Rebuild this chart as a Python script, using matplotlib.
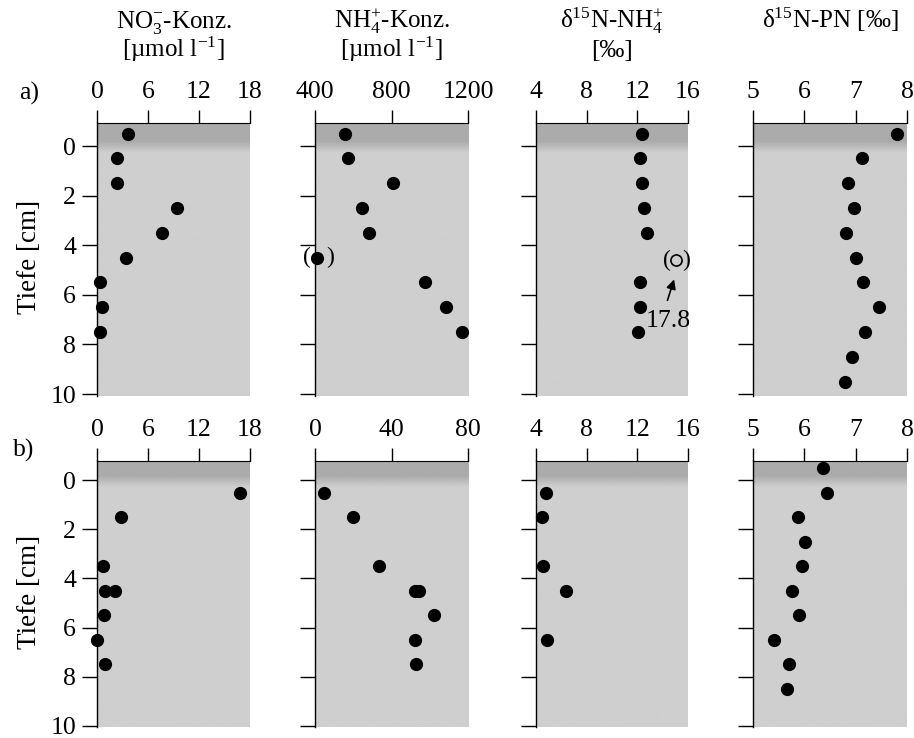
import numpy as np
import matplotlib.pyplot as plt

plt.rcParams['font.family'] = ['Liberation Serif', 'DejaVu Serif']
plt.rcParams['mathtext.fontset'] = 'custom'
plt.rcParams['mathtext.rm'] = 'Liberation Serif'
plt.rcParams['mathtext.it'] = 'Liberation Serif:italic'
plt.rcParams['font.size'] = 18.5

# --- data (Tiefe in cm) ---
no3_a_depth = [-0.5, 0.5, 1.5, 2.5, 3.5, 4.5, 5.5, 6.5, 7.5]
no3_a = [3.7, 2.3, 2.3, 9.45, 7.7, 3.4, 0.3, 0.55, 0.35]
nh4_a_depth = [-0.5, 0.5, 1.5, 2.5, 3.5, 4.5, 5.5, 6.5, 7.5]
nh4_a = [557, 574, 806, 647, 682, 409, 975, 1085, 1168]
nh4_a_bracketed = 5  # index of the value shown in brackets
d15nh4_a_depth = [-0.5, 0.5, 1.5, 2.5, 3.5, 5.5, 6.5, 7.5]
d15nh4_a = [12.39, 12.2, 12.34, 12.55, 12.79, 12.24, 12.2, 12.07]
d15nh4_a_out_depth = 4.6
d15nh4_a_out_shown = 15.05
d15nh4_a_out_label = "17.8"
d15pn_a_depth = [-0.5, 0.5, 1.5, 2.5, 3.5, 4.5, 5.5, 6.5, 7.5, 8.5, 9.5]
d15pn_a = [7.80, 7.12, 6.86, 6.97, 6.82, 7.00, 7.14, 7.46, 7.18, 6.92, 6.79]

no3_b_depth = [0.5, 1.5, 3.5, 4.5, 4.5, 5.5, 6.5, 7.5]
no3_b = [16.8, 2.77, 0.71, 0.92, 2.1, 0.8, 0.04, 0.95]
nh4_b_depth = [0.5, 1.5, 3.5, 4.5, 4.5, 5.5, 6.5, 7.5]
nh4_b = [4.6, 20, 33.3, 52.4, 54.5, 62.1, 52.2, 52.9]
d15nh4_b_depth = [0.5, 1.5, 3.5, 4.5, 6.5]
d15nh4_b = [4.81, 4.47, 4.58, 6.36, 4.84]
d15pn_b_depth = [-0.5, 0.5, 1.5, 2.5, 3.5, 4.5, 5.5, 6.5, 7.5, 8.5]
d15pn_b = [6.37, 6.45, 5.88, 6.02, 5.96, 5.76, 5.89, 5.41, 5.71, 5.66]

xticks_a = [[0, 6, 12, 18], [400, 800, 1200], [4, 8, 12, 16], [5, 6, 7, 8]]
xticks_b = [[0, 6, 12, 18], [0, 40, 80], [4, 8, 12, 16], [5, 6, 7, 8]]
headers = [("NO$_3^{-}$-Konz.", "[µmol l$^{-1}$]"),
           ("NH$_4^{+}$-Konz.", "[µmol l$^{-1}$]"),
           ("δ$^{15}$N-NH$_4^{+}$", "[‰]"),
           ("δ$^{15}$N-PN [‰]", None)]
yticks = [0, 2, 4, 6, 8, 10]

W, H = 914, 738
fig = plt.figure(figsize=(W / 100, H / 100), dpi=100)

cols = [(97, 250), (315, 468), (536, 688), (753, 907)]
rows = [(123, 396, -0.93, 10.08), (461, 727, -0.785, 10.05)]

row_data = [
    [(no3_a, no3_a_depth), (nh4_a, nh4_a_depth), (d15nh4_a, d15nh4_a_depth), (d15pn_a, d15pn_a_depth)],
    [(no3_b, no3_b_depth), (nh4_b, nh4_b_depth), (d15nh4_b, d15nh4_b_depth), (d15pn_b, d15pn_b_depth)],
]
row_ticks = [xticks_a, xticks_b]

axes = []
for r, (top, bot, ytop, ybot) in enumerate(rows):
    rowax = []
    for c, (x0, x1) in enumerate(cols):
        ax = fig.add_axes([x0 / W, 1 - bot / H, (x1 - x0) / W, (bot - top) / H])
        ticks = row_ticks[r][c]
        xlo, xhi = ticks[0], ticks[-1]
        # shaded background: darker water layer above 0 cm
        d = np.linspace(ytop, ybot, 400)
        shade = np.interp(d, [-0.2, 0.25], [0.67, 0.81])
        ax.imshow(shade[:, None], cmap='gray', vmin=0, vmax=1, aspect='auto',
                  extent=[xlo, xhi, ybot, ytop], zorder=0, interpolation='bilinear')
        ax.set_xlim(xlo, xhi)
        ax.set_ylim(ybot, ytop)
        ax.xaxis.tick_top()
        ax.set_xticks(ticks)
        ax.set_yticks(yticks)
        ax.tick_params(axis='x', direction='out', length=9.5, width=1, pad=5)
        ax.tick_params(axis='y', direction='out', length=11, width=1, pad=4,
                       labelleft=(c == 0))
        for s in ['right', 'bottom']:
            ax.spines[s].set_visible(False)
        ax.spines['left'].set_linewidth(1)
        ax.spines['top'].set_linewidth(0.8)
        vals, dep = row_data[r][c]
        ax.plot(vals, dep, 'o', color='k', ms=8.5, clip_on=False, zorder=3)
        rowax.append(ax)
    axes.append(rowax)

# bracketed NH4 value in a)
ax = axes[0][1]
xb, yb = nh4_a[nh4_a_bracketed], nh4_a_depth[nh4_a_bracketed]
ax.annotate("(", (xb, yb), xytext=(-7, 0), textcoords='offset points',
            ha='center', va='center', fontsize=17, annotation_clip=False)
ax.annotate(")", (xb, yb), xytext=(10, 0), textcoords='offset points',
            ha='center', va='center', fontsize=17, annotation_clip=False)

# off-scale d15N-NH4 value in a)
ax = axes[0][2]
ax.plot([d15nh4_a_out_shown], [d15nh4_a_out_depth], 'o', mfc='none', mec='k',
        mew=1.2, ms=8, zorder=3)
ax.annotate("(", (d15nh4_a_out_shown, d15nh4_a_out_depth), xytext=(-6.8, 0),
            textcoords='offset points', ha='center', va='center', fontsize=17)
ax.annotate(")", (d15nh4_a_out_shown, d15nh4_a_out_depth), xytext=(7.2, 0),
            textcoords='offset points', ha='center', va='center', fontsize=17)
ax.annotate("", xy=(14.97, 5.27), xytext=(14.31, 6.33),
            arrowprops=dict(arrowstyle='-|>', color='k', lw=1.2, mutation_scale=14))
ax.text(14.42, 7.06, d15nh4_a_out_label, ha='center', va='center', fontsize=18.5)

# column headers
for c, (x0, x1) in enumerate(cols):
    xc = (x0 + x1) / 2 / W
    l1, l2 = headers[c]
    fig.text(xc, 1 - 28 / H, l1, ha='center', va='baseline', fontsize=18)
    if l2:
        fig.text(xc, 1 - 57 / H, l2, ha='center', va='baseline', fontsize=18)

fig.text(29 / W, 1 - 93 / H, "a)", ha='center', va='center')
fig.text(24 / W, 1 - 450 / H, "b)", ha='center', va='center')
fig.text(30 / W, 1 - 257 / H, "Tiefe [cm]", rotation=90, ha='center', va='center', fontsize=19.5)
fig.text(30 / W, 1 - 592 / H, "Tiefe [cm]", rotation=90, ha='center', va='center', fontsize=19.5)

fig.savefig("out.png", dpi=100)
